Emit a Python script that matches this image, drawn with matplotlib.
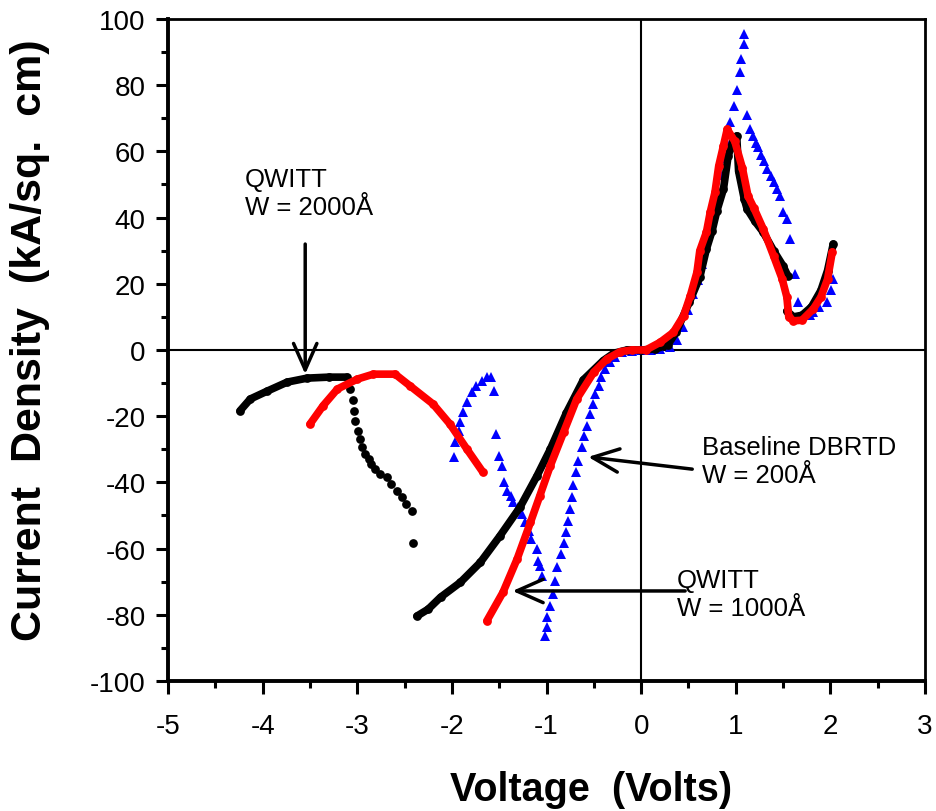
import numpy as np
import matplotlib
matplotlib.use("Agg")
import matplotlib.pyplot as plt
from matplotlib.ticker import MultipleLocator

plt.rcParams['font.family'] = ['Liberation Sans', 'DejaVu Sans']
plt.rcParams['axes.unicode_minus'] = False

# QWITT W = 2000A (black circles)
blk_top_x = [-4.24, -4.13, -3.95, -3.74, -3.53, -3.30, -3.11]
blk_top_y = [-18.4, -14.8, -12.4, -9.7, -8.5, -8.2, -8.2]
blk_drop_x = [-3.08, -3.05, -3.03, -3.02, -2.99, -2.97, -2.95, -2.92, -2.88, -2.85,
              -2.81, -2.76, -2.69, -2.64, -2.58, -2.53, -2.48, -2.42, -2.41]
blk_drop_y = [-11.8, -15.0, -18.3, -21.4, -24.4, -26.9, -29.4, -31.4, -32.9, -34.4,
              -36.0, -37.5, -38.5, -40.5, -42.5, -44.5, -46.5, -48.6, -58.3]
blk_main_x = [-2.37, -2.25, -2.12, -1.91, -1.70, -1.49, -1.28, -1.10, -0.96, -0.79,
              -0.61, -0.40, -0.29, -0.15, 0.0, 0.15, 0.28, 0.37, 0.51, 0.62, 0.69,
              0.75, 0.80, 0.87, 0.92, 0.97, 1.01, 1.03, 1.09, 1.12, 1.20, 1.29, 1.40,
              1.50, 1.55]
blk_main_y = [-80.4, -78.3, -74.7, -70.2, -64.2, -56.1, -47.5, -38.0, -30.0, -19.0,
              -9.0, -3.2, -1.0, 0.0, 0.0, 0.3, 1.5, 5.4, 14.5, 22.0, 30.5,
              36.0, 42.0, 48.6, 58.7, 63.0, 64.7, 54.0, 45.6, 42.6, 39.0, 35.6, 30.0,
              25.4, 22.4]
blk_end_x = [1.54, 1.61, 1.70, 1.80, 1.90, 1.97, 2.03]
blk_end_y = [11.8, 10.0, 10.5, 13.0, 18.0, 24.0, 32.0]

# QWITT W = 1000A (red circles)
red_top_x = [-3.50, -3.36, -3.21, -3.00, -2.83, -2.60, -2.44, -2.20, -2.02, -1.84, -1.67]
red_top_y = [-22.4, -16.8, -11.8, -8.8, -7.3, -7.3, -10.9, -16.3, -22.4, -30.0, -37.0]
red_main_x = [-1.63, -1.46, -1.31, -1.17, -1.07, -0.96, -0.82, -0.68, -0.50, -0.36,
              -0.22, -0.10, 0.05, 0.20, 0.34, 0.45, 0.52, 0.59, 0.62, 0.69, 0.73,
              0.78, 0.82, 0.87, 0.91, 0.99, 1.07, 1.13, 1.19, 1.29, 1.40, 1.49, 1.54,
              1.56, 1.61, 1.70, 1.82, 1.90, 1.97, 2.02]
red_main_y = [-81.8, -73.2, -63.1, -52.1, -44.0, -35.0, -24.9, -14.8, -6.7, -2.7,
              -0.5, 0.0, 0.0, 2.3, 5.3, 10.4, 16.4, 23.5, 30.0, 35.6, 41.6,
              47.6, 55.6, 61.7, 66.7, 63.0, 55.0, 46.5, 43.0, 36.6, 28.4, 21.5, 16.0,
              10.0, 8.8, 9.0, 12.4, 16.0, 21.4, 29.6]

# Baseline DBRTD W = 200A (blue triangles)
blu_x = [-1.98, -1.97, -1.93, -1.91, -1.88, -1.84, -1.79, -1.74, -1.68, -1.63, -1.59,
         -1.56, -1.53, -1.50, -1.47, -1.45, -1.42, -1.38, -1.35, -1.30, -1.26, -1.23,
         -1.19, -1.16, -1.10, -1.09, -1.07, -1.05,
         -1.015, -1.00, -0.99, -0.96, -0.93, -0.91, -0.89, -0.85, -0.82, -0.79, -0.77,
         -0.75, -0.73, -0.72, -0.69, -0.67, -0.63, -0.60, -0.57, -0.54, -0.51, -0.49,
         -0.45, -0.42, -0.38, -0.33, -0.28, -0.20, -0.10, 0.0, 0.10, 0.20, 0.30,
         0.38, 0.44, 0.50, 0.55, 0.60, 0.64, 0.68, 0.72, 0.76, 0.80, 0.84, 0.87,
         0.90, 0.94, 0.98, 1.01, 1.04, 1.06, 1.09, 1.09,
         1.12, 1.15, 1.18, 1.21, 1.24, 1.27, 1.30, 1.33, 1.37, 1.40, 1.44, 1.47,
         1.50, 1.54, 1.57, 1.63, 1.66, 1.72, 1.78, 1.82, 1.88, 1.96, 2.01, 2.03]
blu_y = [-32.4, -27.9, -24.4, -21.9, -18.8, -15.8, -12.8, -10.8, -9.3, -8.3, -8.3,
         -12.3, -25.4, -31.9, -35.0, -39.9, -42.5, -44.0, -46.0, -47.5, -49.5, -52.0,
         -54.6, -57.1, -60.1, -63.6, -65.2, -68.2,
         -86.4, -83.7, -80.7, -77.3, -73.7, -69.8, -65.6, -61.6, -58.3, -55.0, -51.7,
         -48.0, -44.4, -40.8, -36.9, -33.5, -29.3, -26.0, -22.9, -19.3, -16.3, -13.3,
         -10.9, -8.2, -5.7, -3.5, -2.0, -0.7, -0.2, 0.0, 0.0, 0.3, 0.8,
         3.0, 7.0, 12.0, 17.0, 21.0, 26.0, 31.0, 36.0, 42.0, 48.0, 53.0, 58.0,
         63.0, 68.9, 73.6, 78.6, 83.9, 88.0, 92.4, 95.5,
         71.0, 66.7, 64.7, 62.5, 61.2, 59.0, 57.0, 54.7, 52.5, 50.6, 48.5, 46.6,
         41.6, 39.6, 33.5, 23.0, 14.5, 10.5, 10.5, 11.4, 13.0, 14.4, 18.0, 21.5]

fig = plt.figure(figsize=(9.37, 8.12), dpi=100)
ax = fig.add_axes([0.1793, 0.1601, 0.8079, 0.8153])

ax.axhline(0, color='black', lw=1.5, zorder=1)
ax.axvline(0, color='black', lw=1.5, zorder=1)

ax.plot(blu_x, blu_y, '^', color='#0000ff', ms=7.5, mew=0, zorder=2)

dot = dict(marker='o', ms=6.3, mew=0, lw=5.5, solid_capstyle='round', solid_joinstyle='round')
ax.plot(blk_top_x, blk_top_y, color='black', zorder=3, **dot)
ax.plot(blk_drop_x, blk_drop_y, 'o', color='black', ms=6.3, mew=0, zorder=3)
ax.plot(blk_main_x, blk_main_y, color='black', zorder=3, **dot)
ax.plot(blk_end_x, blk_end_y, color='black', zorder=3, **dot)
ax.plot(red_top_x, red_top_y, color='#ff0000', zorder=4, **dot)
ax.plot(red_main_x, red_main_y, color='#ff0000', zorder=4, **dot)

ax.set_xlim(-5, 3)
ax.set_ylim(-100, 100)
ax.xaxis.set_major_locator(MultipleLocator(1))
ax.xaxis.set_minor_locator(MultipleLocator(0.5))
ax.yaxis.set_major_locator(MultipleLocator(20))
ax.yaxis.set_minor_locator(MultipleLocator(10))
ax.tick_params(which='major', direction='out', length=9, width=2.2, labelsize=20)
ax.tick_params(axis='x', which='major', pad=14)
ax.tick_params(axis='y', which='major', pad=7)
ax.tick_params(which='minor', direction='out', length=5, width=2.2)

for side in ['left', 'bottom']:
    ax.spines[side].set_linewidth(2.8)
for side in ['top', 'right']:
    ax.spines[side].set_linewidth(2.0)

ax.set_xlabel('Voltage  (Volts)', fontsize=28.5, fontweight='bold', va='center')
ax.set_ylabel('Current  Density  (kA/sq.  cm)', fontsize=31, fontweight='bold', va='center')
ax.xaxis.set_label_coords(0.559, -0.163)
ax.yaxis.set_label_coords(-0.182, 0.517)

arrow = dict(arrowstyle='->,head_length=0.95,head_width=0.42',
             lw=2.5, color='black', mutation_scale=20, shrinkA=0, shrinkB=0)
ax.annotate('', xy=(-3.55, -7.3), xytext=(-3.55, 32), arrowprops=arrow)
ax.text(-4.19, 47.5, 'QWITT\nW = 2000Å', fontsize=18.5, va='center', ha='left')

ax.annotate('', xy=(-0.56, -32.3), xytext=(0.54, -36), arrowprops=arrow)
ax.text(0.645, -33.5, 'Baseline DBRTD\nW = 200Å', fontsize=18.5, va='center', ha='left')

ax.annotate('', xy=(-1.36, -72.8), xytext=(0.465, -72.8), arrowprops=arrow)
ax.text(0.38, -73.7, 'QWITT\nW = 1000Å', fontsize=18.5, va='center', ha='left')

fig.savefig('out.png', dpi=100)
